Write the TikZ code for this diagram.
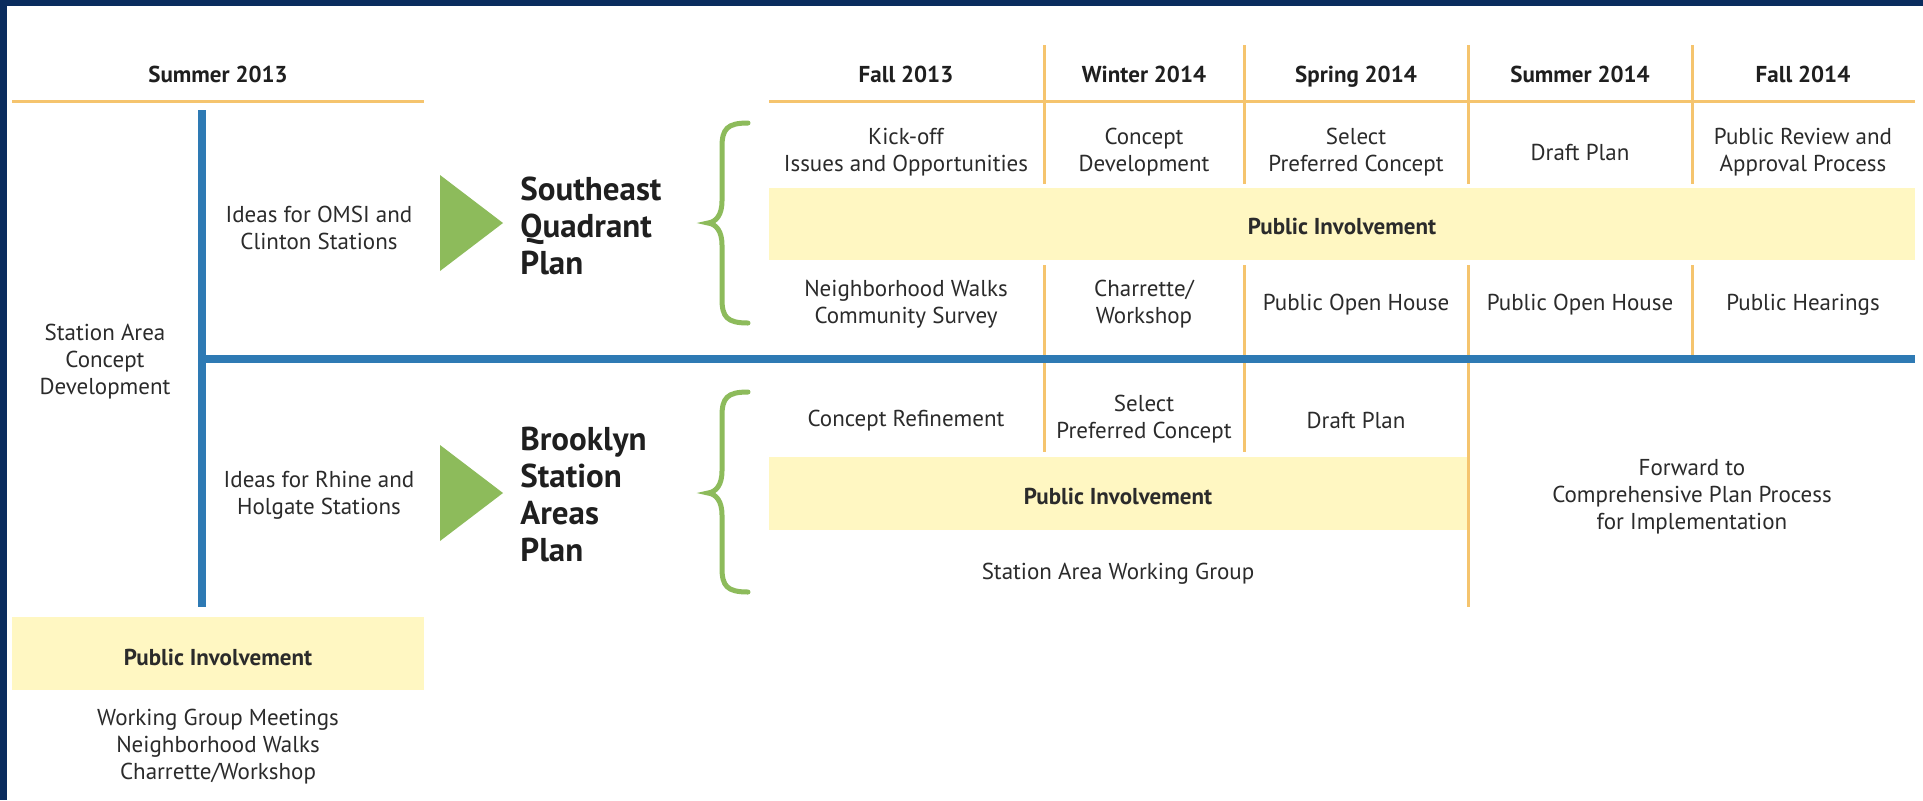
\documentclass[tikz,border=0pt]{standalone}
\usepackage{fontspec}
\setmainfont{PT Sans}
\usepackage{tikz}
\usetikzlibrary{positioning}
\definecolor{framenavy}{HTML}{0A2C5E}
\definecolor{stemblue}{HTML}{2E7AB4}
\definecolor{gridgold}{HTML}{F5C46E}
\definecolor{bandyellow}{HTML}{FFF7C2}
\definecolor{leafgreen}{HTML}{8DBB5B}
\definecolor{inkgray}{HTML}{2B2B2B}
\newcommand{\planarrow}[1]{
  % green wedge, apex at height #1
  \fill[leafgreen] (440,#1-48) -- (503,#1) -- (440,#1+48) -- cycle;
}
\newcommand{\planbrace}[3]{
  % curly brace: top, tip, bottom
  \draw[leafgreen,line width=2.5pt,line cap=round]
    (748,#1) .. controls (727,#1) and (722,#1+6) .. (722,#1+24)
    -- (722,#2-22) .. controls (722,#2-8) and (716,#2-1) .. (708,#2)
    .. controls (716,#2+1) and (722,#2+8) .. (722,#2+22)
    -- (722,#3-24) .. controls (722,#3-6) and (727,#3) .. (748,#3);
}

\begin{document}
\begin{tikzpicture}[x=0.5pt,y=-0.5pt,
  font=\fontsize{11.5}{13.5}\selectfont,text=inkgray,
  season/.style={font=\fontsize{11.5}{13.5}\selectfont\bfseries,text=black!88,inner sep=0pt,text height=8pt,text depth=2.5pt},
  cell/.style={align=center,inner sep=0pt,yshift=-1.2pt},
  plantitle/.style={font=\fontsize{16.5}{18.5}\selectfont\bfseries,align=left,anchor=west,inner sep=0pt,text=black!88},
  gridline/.style={gridgold,line width=1.5pt},
  stem/.style={stemblue,line width=4pt},
  band/.style={fill=bandyellow}]

  \useasboundingbox (0,0) rectangle (1923,800);
  \fill[white] (0,0) rectangle (1923,800);
  \fill[framenavy] (0,0) rectangle (1923,6);
  \fill[framenavy] (0,0) rectangle (7,800);

  % yellow bands
  \fill[band] (769,188) rectangle (1915,260);
  \fill[band] (769,457) rectangle (1468,530);
  \fill[band] (12,617) rectangle (424,690);

  % grid
  \draw[gridline] (12,101) -- (424,101);
  \draw[gridline] (769,101) -- (1915,101);
  \foreach \gx in {1044,1244,1468,1692} {
    \draw[gridline] (\gx,45) -- (\gx,184);
    \draw[gridline] (\gx,265) -- (\gx,359);
  }
  \foreach \gx in {1044,1244}
    \draw[gridline] (\gx,359) -- (\gx,452);
  \draw[gridline] (1468,359) -- (1468,607);

  % blue stems
  \draw[stem] (202,110) -- (202,607);
  \draw[stem] (202,359) -- (1915,359);

  % seasons
  \node[season] (s13) at (218,77) {Summer 2013};
  \node[season] (f13) at (906,77) {Fall 2013};
  \node[season] (w14) at (1144,77) {Winter 2014};
  \node[season] (sp14) at (1356,77) {Spring 2014};
  \node[season] (su14) at (1580,77) {Summer 2014};
  \node[season] (f14) at (1803,77) {Fall 2014};

  % first stage
  \node[cell] (sacd) at (105,359) {Station Area\\Concept\\Development};
  \node[cell] (omsi) at (319,226) {Ideas for OMSI and\\Clinton Stations};
  \node[cell] (rhine) at (319,493) {Ideas for Rhine and\\Holgate Stations};
  \planarrow{223}
  \planarrow{493}
  \node[plantitle] (seqp) at (520,226) {Southeast\\Quadrant\\Plan};
  \node[plantitle] (bsap) at (520,495) {Brooklyn\\Station\\Areas\\Plan};
  \planbrace{123}{223}{323}
  \planbrace{392}{493}{592}

  % southeast quadrant rows
  \node[cell] (kick) at (906,150) {Kick-off\\Issues and Opportunities};
  \node[cell] (cdev) at (1144,150) {Concept\\Development};
  \node[cell] (spc) at (1356,150) {Select\\Preferred Concept};
  \node[cell] (dp) at (1580,150) {Draft Plan};
  \node[cell] (prap) at (1803,150) {Public Review and\\Approval Process};
  \node[cell,font=\fontsize{11.5}{13.5}\selectfont\bfseries] (pi1) at (1342,224) {Public Involvement};
  \node[cell] (walks) at (906,302) {Neighborhood Walks\\Community Survey};
  \node[cell] (char) at (1144,302) {Charrette/\\Workshop};
  \node[cell] (poh1) at (1356,302) {Public Open House};
  \node[cell] (poh2) at (1580,302) {Public Open House};
  \node[cell] (hear) at (1803,302) {Public Hearings};

  % brooklyn rows
  \node[cell] (cref) at (906,418) {Concept Refinement};
  \node[cell] (spc2) at (1144,417) {Select\\Preferred Concept};
  \node[cell] (dp2) at (1356,418) {Draft Plan};
  \node[cell,font=\fontsize{11.5}{13.5}\selectfont\bfseries] (pi2) at (1118,494) {Public Involvement};
  \node[cell] (sawg) at (1118,571) {Station Area Working Group};
  \node[cell] (fwd) at (1692,494) {Forward to\\Comprehensive Plan Process\\for Implementation};

  % summer 2013 involvement
  \node[cell,font=\fontsize{11.5}{13.5}\selectfont\bfseries] (pi0) at (218,655) {Public Involvement};
  \node[cell] (wgm) at (218,744) {Working Group Meetings\\Neighborhood Walks\\Charrette/Workshop};

\end{tikzpicture}
\end{document}
